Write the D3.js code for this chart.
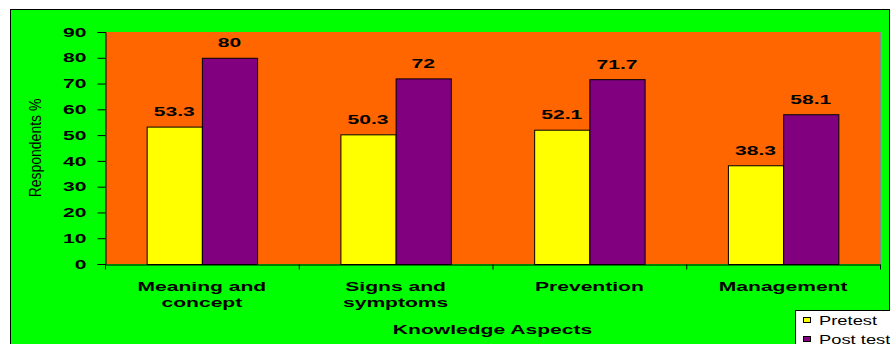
<!DOCTYPE html>
<html>
<head>
<meta charset="utf-8">
<script src="https://cdn.jsdelivr.net/npm/d3@7"></script>
<style>
  html, body { margin: 0; padding: 0; background: #ffffff; }
  svg { display: block; }
  text { font-family: "Liberation Sans", Arial, sans-serif; }
</style>
</head>
<body>
<svg id="chart" width="890" height="344"></svg>
<script>
const categories = ["Meaning and concept", "Signs and symptoms", "Prevention", "Management"];
const categoryLines = [["Meaning and", "concept"], ["Signs and", "symptoms"], ["Prevention"], ["Management"]];
const seriesNames = ["Pretest", "Post test"];
const pretest = [53.3, 50.3, 52.1, 38.3];
const posttest = [80, 72, 71.7, 58.1];
const yTicks = [0, 10, 20, 30, 40, 50, 60, 70, 80, 90];
const yTitle = "Respondents %";
const xTitle = "Knowledge Aspects";

const colors = { "Pretest": "#FFFF00", "Post test": "#800080" };
const SX = 1.62; // horizontal stretch of the bold chart texts

const svg = d3.select("#chart");
const plot = { left: 105, right: 880, top: 32, bottom: 264 };

// outer green chart area
svg.append("rect")
  .attr("x", 10.5).attr("y", 9.5)
  .attr("width", 879).attr("height", 340)
  .attr("fill", "#00FF00").attr("stroke", "#000").attr("stroke-width", 1);

// plot area
svg.append("rect")
  .attr("x", plot.left).attr("y", plot.top)
  .attr("width", plot.right - plot.left).attr("height", plot.bottom - plot.top)
  .attr("fill", "#FF6600");
svg.append("line")
  .attr("x1", plot.right + 0.5).attr("x2", plot.right + 0.5)
  .attr("y1", plot.top).attr("y2", plot.bottom)
  .attr("stroke", "#8a8a8a").attr("stroke-width", 1);

const y = d3.scaleLinear().domain([0, 90]).range([plot.bottom, plot.top]);
const x0 = d3.scaleBand().domain(categories).range([plot.left, plot.right])
  .paddingInner(0.43).paddingOuter(0.215);
const x1 = d3.scaleBand().domain(seriesNames).range([0, x0.bandwidth()]);

const rows = categories.map((c, i) => ({ cat: c, values: [
  { name: "Pretest", value: pretest[i] },
  { name: "Post test", value: posttest[i] }
]}));

// bars
const groups = svg.append("g").selectAll("g").data(rows).join("g")
  .attr("transform", d => `translate(${x0(d.cat)},0)`);
groups.selectAll("rect").data(d => d.values).join("rect")
  .attr("x", d => x1(d.name) + 0.5)
  .attr("y", d => y(d.value) + 0.5)
  .attr("width", x1.bandwidth())
  .attr("height", d => y(0) - y(d.value))
  .attr("fill", d => colors[d.name])
  .attr("stroke", "#000").attr("stroke-width", 1);
groups.selectAll("text").data(d => d.values).join("text")
  .attr("transform", d => `translate(${x1(d.name) + x1.bandwidth() / 2},${y(d.value) - 10.5}) scale(${SX},1)`)
  .attr("text-anchor", "middle")
  .attr("font-size", 13).attr("font-weight", "bold").attr("fill", "#000")
  .text(d => String(d.value));

// y axis
const yAxis = svg.append("g")
  .attr("transform", `translate(${plot.left + 0.5},0)`)
  .call(d3.axisLeft(y).tickValues(yTicks).tickSize(8).tickFormat(d3.format("d")));
yAxis.select(".domain").attr("stroke", "#000");
yAxis.selectAll(".tick line").attr("stroke", "#000");
yAxis.selectAll(".tick text")
  .attr("x", null)
  .attr("transform", `translate(-19,0) scale(${SX},1)`)
  .attr("font-size", 13).attr("font-weight", "bold")
  .attr("font-family", "Liberation Sans, Arial, sans-serif")
  .attr("fill", "#000");

// x axis (ticks between categories)
const xb = d3.scaleLinear().domain([0, categories.length]).range([plot.left, plot.right]);
const xAxis = svg.append("g")
  .attr("transform", `translate(0,${plot.bottom + 0.5})`)
  .call(d3.axisBottom(xb).tickValues(d3.range(categories.length + 1)).tickSize(5).tickSizeOuter(0).tickFormat(""));
xAxis.select(".domain").attr("stroke", "#000");
xAxis.selectAll(".tick line").attr("stroke", "#000");

// category labels
categories.forEach((c, i) => {
  const cx = x0(c) + x0.bandwidth() / 2;
  categoryLines[i].forEach((line, j) => {
    svg.append("text")
      .attr("transform", `translate(${cx},${291 + j * 16.3}) scale(${SX},1)`)
      .attr("text-anchor", "middle")
      .attr("font-size", 13).attr("font-weight", "bold").attr("fill", "#000")
      .text(line);
  });
});

// axis titles
svg.append("text")
  .attr("transform", `translate(${(plot.left + plot.right) / 2},334) scale(${SX},1)`)
  .attr("text-anchor", "middle")
  .attr("font-size", 13).attr("font-weight", "bold").attr("fill", "#000")
  .text(xTitle);
svg.append("text")
  .attr("transform", `translate(41,${(plot.top + plot.bottom) / 2}) rotate(-90) scale(1,1.18)`)
  .attr("text-anchor", "middle")
  .attr("font-size", 14).attr("fill", "#000")
  .text(yTitle);

// legend
const legend = svg.append("g");
legend.append("rect")
  .attr("x", 795.5).attr("y", 310.5).attr("width", 110).attr("height", 50)
  .attr("fill", "#fff").attr("stroke", "#000").attr("stroke-width", 1);
seriesNames.forEach((s, i) => {
  legend.append("rect")
    .attr("x", 803.5).attr("y", 317.5 + i * 19).attr("width", 7).attr("height", 5)
    .attr("fill", colors[s]).attr("stroke", "#000").attr("stroke-width", 1);
  legend.append("text")
    .attr("transform", `translate(819,${325 + i * 19}) scale(1.53,1)`)
    .attr("font-size", 12).attr("fill", "#000")
    .text(s);
});
</script>
</body>
</html>
